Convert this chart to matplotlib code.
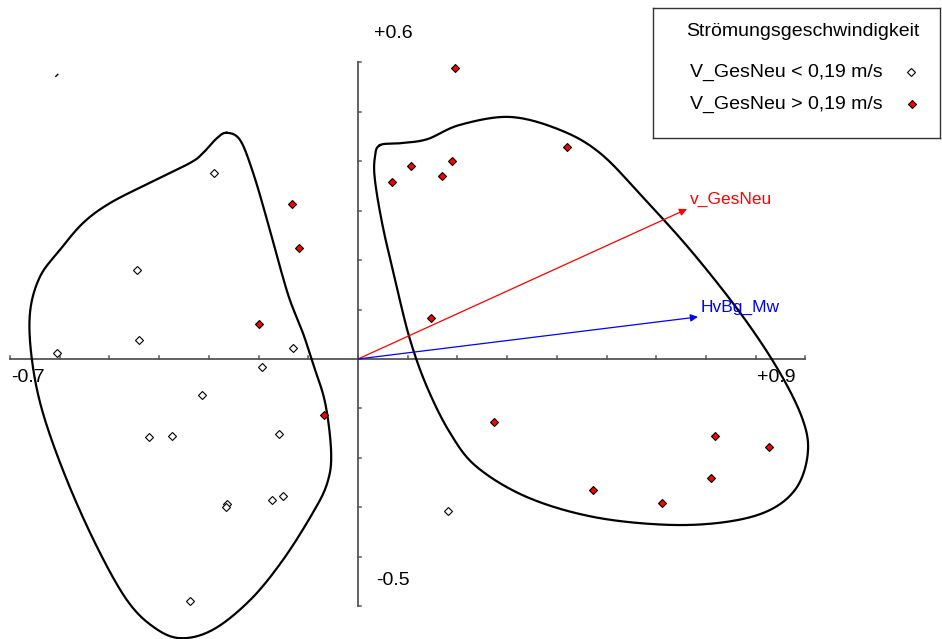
import numpy as np
import matplotlib
matplotlib.use("Agg")
import matplotlib.pyplot as plt

plt.rcParams['font.family'] = ['Liberation Sans', 'DejaVu Sans']

# Site scores, grouped by flow velocity class
low_x = [-0.606, -0.445, -0.441, -0.290, -0.131, -0.193, -0.314, -0.421, -0.374,
         -0.159, -0.264, -0.266, -0.173, -0.151, -0.338, 0.181]
low_y = [0.012, 0.180, 0.038, 0.376, 0.022, -0.016, -0.073, -0.158, -0.156,
         -0.152, -0.293, -0.299, -0.285, -0.277, -0.489, -0.307]

high_x = [0.195, -0.133, -0.119, -0.199, -0.068, 0.068, 0.107, 0.169, 0.189,
          0.421, 0.147, 0.274, 0.473, 0.612, 0.710, 0.718, 0.827]
high_y = [0.588, 0.313, 0.224, 0.071, -0.113, 0.358, 0.390, 0.370, 0.400,
          0.428, 0.083, -0.127, -0.265, -0.291, -0.240, -0.156, -0.178]

# Environmental variable vectors
env_names = ["v_GesNeu", "HvBg_Mw"]
env_x = [0.662, 0.684]
env_y = [0.303, 0.085]
env_colors = ["#ff0000", "#0000ff"]

# Outline points of the two group envelopes
left_hull_x = [-0.264, -0.237, -0.211, -0.183, -0.157, -0.137, -0.111, -0.091, -0.066,
               -0.054, -0.062, -0.091, -0.151, -0.217, -0.292, -0.358, -0.412, -0.465,
               -0.525, -0.586, -0.634, -0.656, -0.660, -0.640, -0.600, -0.553, -0.499,
               -0.419, -0.338, -0.312, -0.284]
left_hull_y = [0.457, 0.442, 0.376, 0.281, 0.186, 0.119, 0.053, -0.008, -0.089,
               -0.190, -0.251, -0.311, -0.406, -0.487, -0.547, -0.564, -0.541, -0.487,
               -0.380, -0.244, -0.109, -0.002, 0.093, 0.166, 0.220, 0.275, 0.315,
               0.356, 0.396, 0.416, 0.446]

right_hull_x = [0.044, 0.085, 0.139, 0.205, 0.306, 0.406, 0.487, 0.573, 0.674, 0.775,
                0.849, 0.895, 0.905, 0.883, 0.829, 0.742, 0.622, 0.473, 0.340, 0.239,
                0.185, 0.139, 0.105, 0.078, 0.050, 0.034, 0.034]
right_hull_y = [0.432, 0.436, 0.444, 0.473, 0.489, 0.463, 0.416, 0.327, 0.214, 0.085,
                -0.028, -0.123, -0.190, -0.259, -0.305, -0.329, -0.335, -0.319, -0.279,
                -0.218, -0.149, -0.057, 0.038, 0.145, 0.267, 0.362, 0.408]

# Axis ranges
x_min, x_max = -0.7, 0.9
y_min, y_max = -0.5, 0.6


def smooth_closed(xs, ys, n=24):
    """Periodic Catmull-Rom curve through the outline points."""
    p = np.column_stack([xs, ys])
    m = len(p)
    out = []
    t = np.linspace(0, 1, n, endpoint=False)[:, None]
    for i in range(m):
        p0, p1, p2, p3 = p[(i - 1) % m], p[i], p[(i + 1) % m], p[(i + 2) % m]
        seg = 0.5 * ((2 * p1) + (-p0 + p2) * t + (2 * p0 - 5 * p1 + 4 * p2 - p3) * t ** 2
                     + (-p0 + 3 * p1 - 3 * p2 + p3) * t ** 3)
        out.append(seg)
    out = np.vstack(out)
    out = np.vstack([out, out[:1]])
    return out[:, 0], out[:, 1]


fig = plt.figure(figsize=(9.42, 6.39), dpi=100)
ax = fig.add_axes([0, 0, 1, 1])
ax.set_xlim(-0.7203, 1.175)
ax.set_ylim(-0.5657, 0.7253)
ax.axis("off")

axis_col = "#555555"
# Cross-shaped axes through the origin
ax.plot([x_min, x_max], [0, 0], color=axis_col, lw=1.3, zorder=2)
ax.plot([0, 0], [y_min, y_max], color=axis_col, lw=1.3, zorder=2)
for xt in np.arange(-7, 10) / 10:
    ax.plot([xt, xt], [0, 0.007], color=axis_col, lw=1.1, zorder=2)
for yt in np.arange(-5, 7) / 10:
    ax.plot([0, 0.007], [yt, yt], color=axis_col, lw=1.1, zorder=2)

ax.text(0.072, 0.657, "+0.6", fontsize=14, ha="center", va="center")
ax.text(0.071, -0.448, "-0.5", fontsize=14, ha="center", va="center")
ax.text(-0.665, -0.038, "-0.7", fontsize=14, ha="center", va="center")
ax.text(0.842, -0.038, "+0.9", fontsize=14, ha="center", va="center")

# Group envelopes
for hx, hy in [(left_hull_x, left_hull_y), (right_hull_x, right_hull_y)]:
    sx, sy = smooth_closed(hx, hy)
    ax.plot(sx, sy, color="black", lw=1.6, zorder=3)

# Environmental vectors
for name, ex, ey, c in zip(env_names, env_x, env_y, env_colors):
    ax.annotate("", xy=(ex, ey), xytext=(0, 0),
                arrowprops=dict(arrowstyle="-|>", color=c, lw=0.9,
                                mutation_scale=11, shrinkA=0, shrinkB=0),
                zorder=4)
    ax.text(ex + 0.006, ey + 0.004, name, color=c, fontsize=12.5,
            ha="left", va="bottom")

# Site points
ax.plot(low_x, low_y, linestyle="none", marker="D", ms=4.2, mfc="white",
        mec="black", mew=0.8, zorder=5)
ax.plot(high_x, high_y, linestyle="none", marker="D", ms=4.2, mfc="#ff0000",
        mec="black", mew=0.8, zorder=5)

# small stray stroke at upper left
ax.plot([-0.608, -0.604], [0.571, 0.575], color="black", lw=1.0)

# Legend box
lg = fig.add_axes([653 / 942, 1 - 138 / 639, (940 - 653) / 942, (138 - 8) / 639])
lg.set_xlim(0, 287)
lg.set_ylim(130, 0)
lg.set_xticks([])
lg.set_yticks([])
for s in lg.spines.values():
    s.set_color("#333333")
    s.set_linewidth(1.0)
lg.text(150, 24, "Strömungsgeschwindigkeit", fontsize=14, ha="center", va="center")
lg.text(37, 64, "V_GesNeu < 0,19 m/s", fontsize=14, ha="left", va="center")
lg.text(37, 96, "V_GesNeu > 0,19 m/s", fontsize=14, ha="left", va="center")
lg.plot([258], [64], linestyle="none", marker="D", ms=3.6, mfc="white",
        mec="black", mew=0.8)
lg.plot([259], [96], linestyle="none", marker="D", ms=3.6, mfc="#ff0000",
        mec="black", mew=0.8)

fig.savefig("out.png", dpi=100)
